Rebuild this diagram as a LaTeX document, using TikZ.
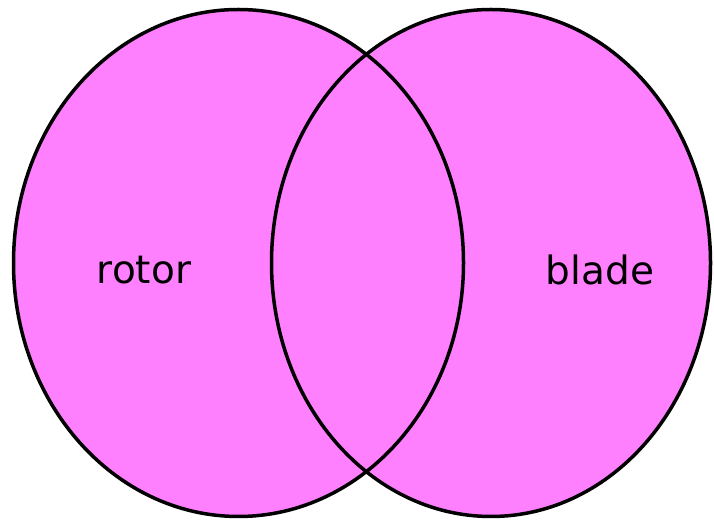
\documentclass[tikz,border=0pt]{standalone}
\usepackage{fontspec}
\setmainfont{DejaVu Sans}
\usepackage{xcolor}
\usepackage{tikz}
\usetikzlibrary{shapes.geometric}

\definecolor{vennpink}{HTML}{FF80FF}

\begin{document}
\begin{tikzpicture}[
  x=1pt, y=1pt,
  setfill/.style={ellipse, fill=vennpink, inner sep=0pt, outer sep=0pt,
                  minimum height=507pt},
  rim/.style={black, line width=3.5pt},
  lbl/.style={anchor=base, font=\fontsize{39}{44}\selectfont}
]
\useasboundingbox (0,0) rectangle (714,521);
% the two sets
\node[setfill, minimum width=450pt] (rotorset) at (238.5,258) {};
\node[setfill, minimum width=439pt] (bladeset) at (491,258) {};
% outlines on top of both fills
\draw[rim] (rotorset.center) ellipse [x radius=225pt, y radius=253.5pt];
\draw[rim] (bladeset.center) ellipse [x radius=219.5pt, y radius=253.5pt];
\node[lbl] (rotor) at (144,237) {rotor};
\node[lbl] (blade) at (600,236) {blade};
\end{tikzpicture}
\end{document}
